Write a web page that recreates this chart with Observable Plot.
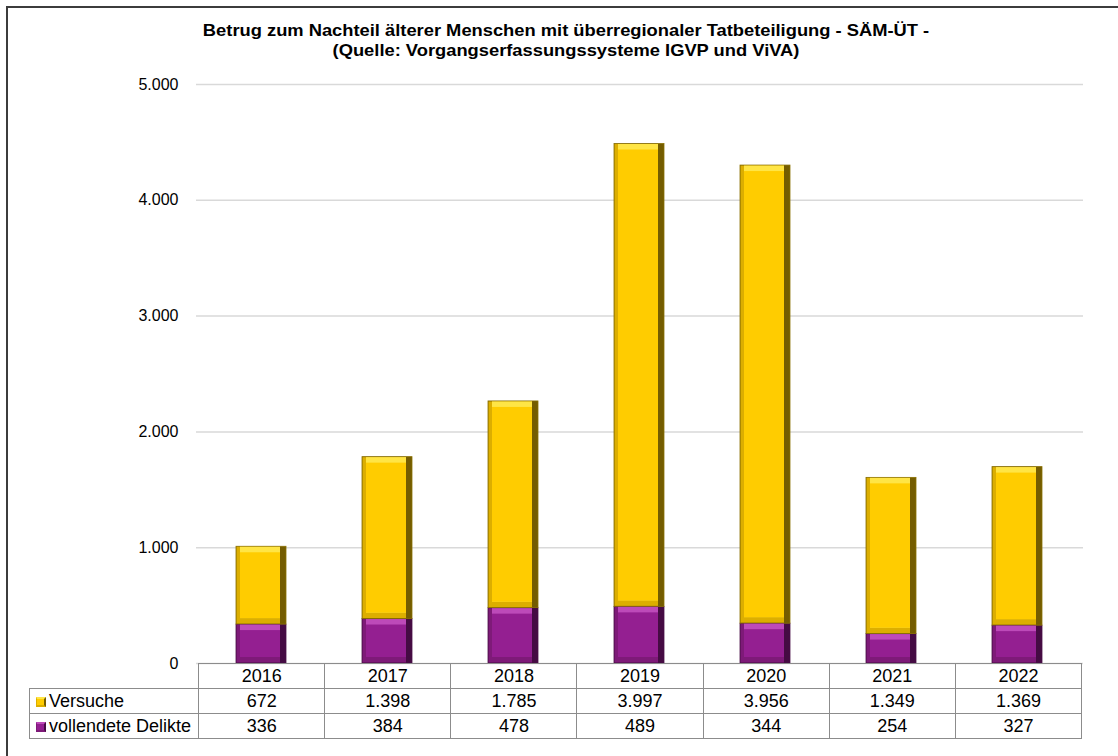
<!DOCTYPE html>
<html>
<head>
<meta charset="utf-8">
<script src="https://cdn.jsdelivr.net/npm/d3@7"></script>
<script src="https://cdn.jsdelivr.net/npm/@observablehq/plot@0.6"></script>
<style>
  html, body { margin: 0; padding: 0; background: #fff; overflow: hidden; }
  body { width: 1118px; height: 756px; position: relative; font-family: "Liberation Sans", Arial, sans-serif; }
  #frame { position: absolute; left: 6px; top: 6px; width: 1200px; height: 800px; border: 2px solid #3c3c3c; box-sizing: border-box; }
  #title { position: absolute; top: 20px; left: 566px; transform: translateX(-50%) scaleX(1.11); white-space: nowrap; text-align: center; font-weight: bold; font-size: 16.5px; line-height: 20px; color: #000; }
  #chart { position: absolute; left: 0; top: 0; }
  #tbl { position: absolute; border-collapse: collapse; table-layout: fixed; font-size: 18px; color: #000; }
  #tbl td { border: 1.5px solid #8c8c8c; height: 24px; padding: 0; text-align: center; line-height: 24px; white-space: nowrap; overflow: hidden; }
  #tbl td.hdr { text-align: left; padding-left: 6px; }
  #tbl td.empty { border: none; }
  .key { display: inline-block; width: 10px; height: 10px; margin-right: 3px; vertical-align: 0px; box-sizing: border-box; }
</style>
</head>
<body>
<div id="frame"></div>
<div id="title">Betrug zum Nachteil älterer Menschen mit überregionaler Tatbeteiligung - SÄM-ÜT -<br>(Quelle: Vorgangserfassungssysteme IGVP und ViVA)</div>
<div id="chart"></div>
<script>
const years = ["2016", "2017", "2018", "2019", "2020", "2021", "2022"];
const versuche = [672, 1398, 1785, 3997, 3956, 1349, 1369];
const vollendet = [336, 384, 478, 489, 344, 254, 327];
const seriesNames = ["vollendete Delikte", "Versuche"];
const yTicks = [0, 1000, 2000, 3000, 4000, 5000];

const palette = {
  "Versuche": {edge: "#745c00", side: "#dcae00", light: "#ffe545", main: "#ffcc00", line: "#8a7000"},
  "vollendete Delikte": {edge: "#450b43", side: "#7e1a78", light: "#bd4ab9", main: "#941f91", line: "#4a0f48"}
};

const de = d3.formatLocale({decimal: ",", thousands: ".", grouping: [3], currency: ["", " €"]});
const fmt = de.format(",d");

const data = [];
years.forEach((y, i) => data.push({year: y, series: seriesNames[0], value: vollendet[i]}));
years.forEach((y, i) => data.push({year: y, series: seriesNames[1], value: versuche[i]}));

const b = 6;
function layer(key, insets, extra = {}) {
  return Plot.barY(data, Plot.stackY({
    x: "year", y: "value", z: "series", order: seriesNames,
    fill: d => palette[d.series][key], ...insets, ...extra
  }));
}

const chart = Plot.plot({
  width: 1118,
  height: 664,
  marginTop: 84,
  marginBottom: 1,
  marginLeft: 196,
  marginRight: 35,
  style: {fontFamily: "'Liberation Sans', Arial, sans-serif", fontSize: "16px", color: "#000", background: "transparent", overflow: "visible"},
  x: {domain: years, paddingInner: 0.6, paddingOuter: 0.3, axis: null},
  y: {domain: [0, 5000], ticks: yTicks, tickFormat: fmt, tickSize: 0, tickPadding: 18, label: null},
  color: {type: "identity"},
  marks: [
    Plot.gridY(yTicks, {stroke: "#d9d9d9", strokeOpacity: 1, strokeWidth: 1.5}),
    layer("edge", {}, {stroke: d => palette[d.series].line, strokeWidth: 0.8}),
    layer("side", {insetRight: b, insetLeft: 0.5, insetTop: 0.5, insetBottom: 0.5}),
    layer("light", {insetRight: b, insetBottom: b, insetLeft: 4, insetTop: 0.5}),
    layer("main", {insetLeft: 4, insetRight: b, insetTop: b, insetBottom: b}),
    Plot.axisY(yTicks, {tickFormat: fmt, tickSize: 0, tickPadding: 18, fontSize: 16})
  ]
});
document.getElementById("chart").appendChild(chart);

// Data table aligned with the x band scale
const xs = chart.scale("x");
const ys = chart.scale("y");
const step = xs.step;
const firstLeft = xs.apply(years[0]) + xs.bandwidth / 2 - step / 2;
const tableTop = ys.apply(0);
const hdrWidth = 169;

const tbl = document.createElement("table");
tbl.id = "tbl";
tbl.style.left = (firstLeft - hdrWidth) + "px";
tbl.style.top = tableTop + "px";
const cg = document.createElement("colgroup");
const c0 = document.createElement("col"); c0.style.width = hdrWidth + "px"; cg.appendChild(c0);
years.forEach(() => { const c = document.createElement("col"); c.style.width = step + "px"; cg.appendChild(c); });
tbl.appendChild(cg);
tbl.style.width = (hdrWidth + step * years.length + 2) + "px";

const r0 = tbl.insertRow();
const e = r0.insertCell(); e.className = "empty";
years.forEach(y => { r0.insertCell().textContent = y; });

const rows = [["Versuche", versuche], ["vollendete Delikte", vollendet]];
rows.forEach(([name, vals]) => {
  const r = tbl.insertRow();
  const h = r.insertCell(); h.className = "hdr";
  const k = document.createElement("span"); k.className = "key";
  const p = palette[name];
  k.style.background = p.main;
  k.style.borderTop = "2px solid " + p.light;
  k.style.borderLeft = "1px solid " + p.side;
  k.style.borderRight = "2px solid " + p.edge;
  k.style.borderBottom = "2px solid " + p.side;
  h.appendChild(k);
  h.appendChild(document.createTextNode(name));
  vals.forEach(v => { r.insertCell().textContent = fmt(v); });
});
document.body.appendChild(tbl);
</script>
</body>
</html>
